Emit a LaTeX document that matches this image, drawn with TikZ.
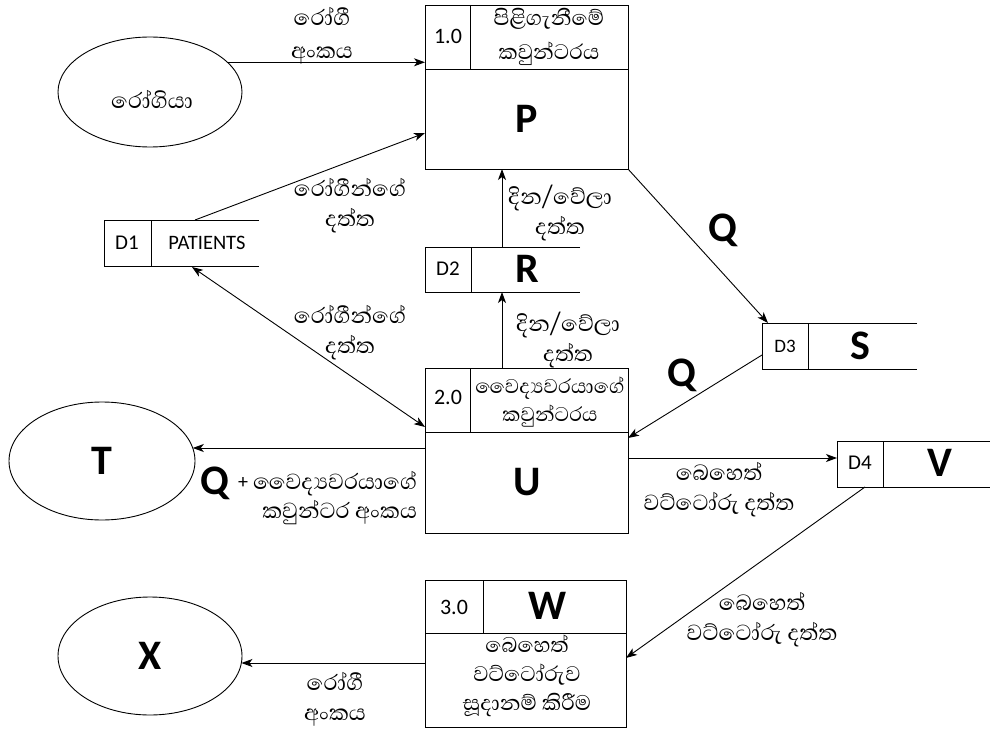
\documentclass[tikz,border=0pt]{standalone}
\usepackage{fontspec}
\setmainfont{Carlito}
\newfontfamily\snf[Script=Sinhala]{Abhaya Libre}
\usetikzlibrary{arrows.meta,shapes.geometric,calc}
\begin{document}
\begin{tikzpicture}[x=1pt,y=-1pt,
  every node/.style={inner sep=0pt, outer sep=0pt},
  ln/.style={line width=0.9pt},
  arr/.style={ln, -{Stealth[length=11pt,width=8pt,inset=3pt]}},
  darr/.style={ln, {Stealth[length=11pt,width=8pt,inset=3pt]}-{Stealth[length=11pt,width=8pt,inset=3pt]}},
  ent/.style={ellipse, draw, ln},
  box/.style={rectangle, draw, ln, anchor=north west},
  store/.style={rectangle, anchor=north west},
  sl/.style={font=\snf\fontsize{28}{30}\selectfont, align=center},
  big/.style={font=\bfseries\fontsize{42}{42}\selectfont},
  num/.style={font=\fontsize{22}{22}\selectfont},
  dl/.style={font=\fontsize{21}{21}\selectfont},
]
\useasboundingbox (0,0) rectangle (990,730);

% entities
\node[ent, minimum width=184pt, minimum height=110pt] (E1) at (150,92) {};
\node[sl] (E1t) at (152,99) {රෝගියා};
\node[ent, minimum width=186pt, minimum height=118pt, big] (T) at (102,461) {T};
\node[ent, minimum width=184pt, minimum height=118pt, big] (X) at (150,656) {X};

% process 1
\node[box, minimum width=203pt, minimum height=164pt] (P) at (425,5) {};
\draw[ln] ([yshift=-64pt]P.north west) -- ([yshift=-64pt]P.north east);
\draw[ln] ([xshift=45pt]P.north west) -- ([xshift=45pt,yshift=-64pt]P.north west);
\node[num] (Pn) at (448,36) {1.0};
\node[sl, font=\snf\fontsize{27}{34}\selectfont] (Ph) at (549,37) {පිළිගැනීමේ\\කවුන්ටරය};
\node[big] (Pb) at (527,119) {P};

% process 2
\node[box, minimum width=203pt, minimum height=165pt] (U) at (425,368) {};
\draw[ln] ([yshift=-64pt]U.north west) -- ([yshift=-64pt]U.north east);
\draw[ln] ([xshift=45pt]U.north west) -- ([xshift=45pt,yshift=-64pt]U.north west);
\node[num] (Un) at (448,397) {2.0};
\node[sl, font=\snf\fontsize{25.5}{28}\selectfont] (Uh) at (550,402) {වෛද්^^^^200dයවරයාගේ\\කවුන්ටරය};
\node[big] (Ub) at (527,482) {U};

% process 3
\node[box, minimum width=201pt, minimum height=147pt] (W) at (425,580) {};
\draw[ln] ([yshift=-53pt]W.north west) -- ([yshift=-53pt]W.north east);
\draw[ln] ([xshift=58pt]W.north west) -- ([xshift=58pt,yshift=-53pt]W.north west);
\node[num] (Wn) at (454,607) {3.0};
\node[big] (Wh) at (548,606) {W};
\node[sl, font=\snf\fontsize{27}{29}\selectfont] (Wb) at (527,676) {බෙහෙත්\\වට්ටෝරුව\\සූදානම් කිරීම};

% data stores
\node[store, minimum width=155pt, minimum height=46pt] (D1) at (104,220) {};
\draw[ln] (D1.north east) -- (D1.north west) -- (D1.south west) -- (D1.south east);
\draw[ln] ([xshift=47pt]D1.north west) -- ([xshift=47pt]D1.south west);
\node[dl] (D1a) at (127,243) {D1};
\node[font=\fontsize{20.5}{20.5}\selectfont] (D1b) at (207,243) {PATIENTS};

\node[store, minimum width=155pt, minimum height=45pt] (D2) at (425,247) {};
\draw[ln] (D2.north east) -- (D2.north west) -- (D2.south west) -- (D2.south east);
\draw[ln] ([xshift=46pt]D2.north west) -- ([xshift=46pt]D2.south west);
\node[dl] (D2a) at (448,269) {D2};
\node[big] (D2b) at (527,269) {R};

\node[store, minimum width=155pt, minimum height=46pt] (D3) at (762,323) {};
\draw[ln] (D3.north east) -- (D3.north west) -- (D3.south west) -- (D3.south east);
\draw[ln] ([xshift=46pt]D3.north west) -- ([xshift=46pt]D3.south west);
\node[font=\fontsize{19}{19}\selectfont] (D3a) at (785,346) {D3};
\node[big] (D3b) at (860,346) {S};

\node[store, minimum width=153pt, minimum height=46pt] (D4) at (837,441) {};
\draw[ln] (D4.north east) -- (D4.north west) -- (D4.south west) -- (D4.south east);
\draw[ln] ([xshift=46pt]D4.north west) -- ([xshift=46pt]D4.south west);
\node[dl] (D4a) at (860,463) {D4};
\node[big] (D4b) at (940,463) {V};

% connector end points on boxes
\coordinate (cUT) at ([yshift=-80pt]U.north west);
\coordinate (cUD) at ([yshift=-90pt]U.north east);
\coordinate (cWX) at ([yshift=-83pt]W.north west);

% connectors
\draw[arr] (E1.21) -- (E1.21 -| P.west);
\draw[arr] ([xshift=91pt]D1.north west) -- ([yshift=-128pt]P.north west);
\draw[darr] ([xshift=88pt,yshift=-1pt]D1.south west) -- ([yshift=-59pt]U.north west);
\draw[arr] ([xshift=77pt]U.north west) -- ([xshift=77pt]D2.south west);
\draw[arr] ([xshift=77pt]D2.north west) -- ([xshift=77pt]P.south west);
\draw[arr] (P.south east) -- ([xshift=6pt]D3.north west);
\draw[arr] ([yshift=-32pt]D3.north west) -- ([yshift=-70pt]U.north east);
\draw[arr] (cUT) -- (T.8 |- cUT);
\draw[arr] (cUD) -- (cUD -| D4.west);
\draw[arr] ([xshift=28pt]D4.south west) -- ([yshift=-78pt]W.north east);
\draw[arr] (cWX) -- (X.-4.4 |- cWX);

% labels
\node[sl, font=\snf\fontsize{28}{33}\selectfont] (L1) at (322,36) {රෝගී\\අංකය};
\node[sl] (L2) at (350,206) {රෝගීන්ගේ\\දත්ත};
\node[sl] (L3) at (350,333) {රෝගීන්ගේ\\දත්ත};
\node[sl] (L4) at (560,213) {දින/වේලා\\දත්ත};
\node[sl] (L5) at (568,340) {දින/වේලා\\දත්ත};
\node[big] (L6) at (723,230) {Q};
\node[big] (L7) at (682,375) {Q};
\node[big] (L8) at (215,483) {Q};
\node[font=\fontsize{20}{20}\selectfont] (L8b) at (243,483) {+};
\node[sl, anchor=east] (L8c) at (417,484) {වෛද්^^^^200dයවරයාගේ};
\node[sl, anchor=east] (L8d) at (417,513) {කවුන්ටර අංකය};
\node[sl] (L9) at (719,490) {බෙහෙත්\\වට්ටෝරු දත්ත};
\node[sl] (L10) at (762,620) {බෙහෙත්\\වට්ටෝරු දත්ත};
\node[sl] (L11) at (335,699) {රෝගී\\අංකය};
\end{tikzpicture}
\end{document}
